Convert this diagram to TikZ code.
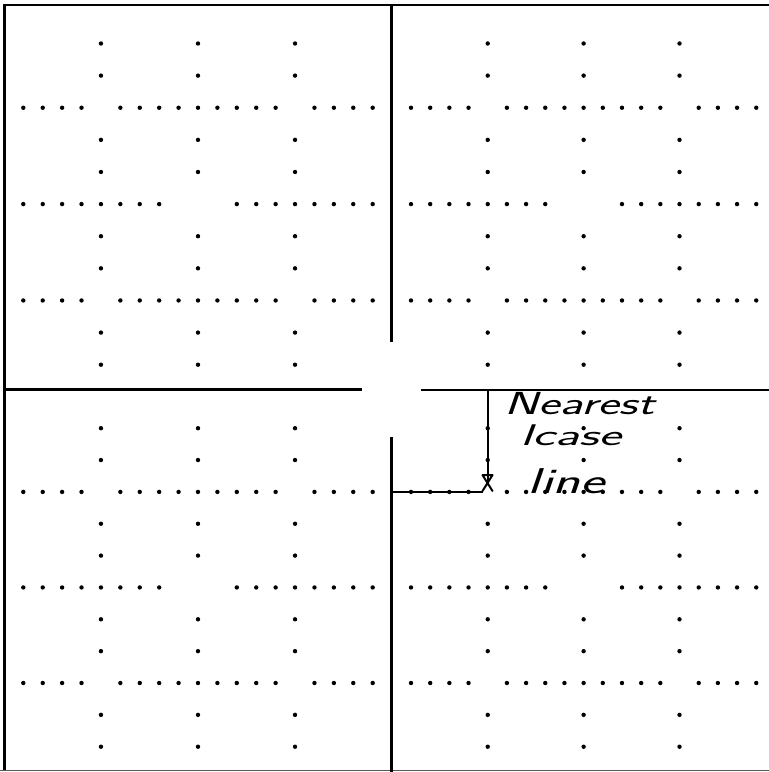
\documentclass[tikz,border=0pt]{standalone}
\usepackage{fontspec}
\newcommand\quadgrid[4]{%
  \foreach \r in {0,1,3,4,6,7,9,10}{\foreach \c in {4,9,14}{\fill (#1+\c*#2,#3+\r*#4) circle (2.2bp);}}%
  \foreach \r in {2,8}{\foreach \c in {0,1,2,3,5,6,...,13,15,16,17,18}{\fill (#1+\c*#2,#3+\r*#4) circle (2.2bp);}}%
  \foreach \c in {0,1,...,7,11,12,...,18}{\fill (#1+\c*#2,#3+5*#4) circle (2.2bp);}%
}
\tikzset{
  rule/.style={line width=2.6bp, black},
  hand/.style={inner sep=0pt, anchor=base west, font=\sffamily\itshape},
}
\begin{document}
\begin{tikzpicture}[x=1bp,y=-1bp]
\useasboundingbox (0,0) rectangle (769,772);
\fill[white] (0,0) rectangle (769,772);
% dot grids
\quadgrid{23.3}{19.41}{43.5}{32.12}
\quadgrid{411}{19.18}{43.5}{32.12}
\quadgrid{23.3}{19.41}{428.2}{31.85}
\quadgrid{411}{19.18}{428.2}{31.85}
% frame and cross lines
\coordinate (tl) at (4.5,5);
\coordinate (tr) at (769,5);
\coordinate (bl) at (4.5,771);
\draw[rule] (tr) -- (tl) -- (bl);
\draw[line width=1.8bp, black!65] (0,770.5) -- (769,770.5);
\coordinate (vt1) at (391.5,5);
\coordinate (vt2) at (391.5,342);
\coordinate (vb1) at (391.5,437);
\coordinate (vb2) at (391.5,772);
\draw[rule] (vt1) -- (vt2);
\draw[rule] (vb1) -- (vb2);
\coordinate (hl1) at (4,389.5);
\coordinate (hl2) at (362,389.5);
\coordinate (hr1) at (420.5,390);
\coordinate (hr2) at (769,390);
\draw[rule] (hl1) -- (hl2);
\draw[rule] (hr1) -- (hr2);
% arrow to nearest line
\coordinate (atop) at (487.7,390);
\coordinate (atip) at (487.7,483);
\coordinate (lead) at (391.5,491.5);
\coordinate (leadend) at (483,491.5);
\draw[line width=2bp] (atop) -- (atip);
\draw[line width=2bp] (lead) -- (leadend);
\draw[line width=2bp, line cap=round] (482.5,475) -- (492.5,475)
  (482.5,475) -- (492.5,491) (492.5,475) -- (482.5,491);
% handwritten label
\node[hand] (t1) at (504,414) {\fontsize{32}{32}\selectfont\scalebox{1.6}[1]{Nearest}};
\node[hand] (t2) at (520,445) {\fontsize{30}{30}\selectfont\scalebox{1.8}[1]{lcase}};
\node[hand] (t3) at (527,493) {\fontsize{36}{36}\selectfont\scalebox{1.6}[1]{line}};
\end{tikzpicture}
\end{document}
